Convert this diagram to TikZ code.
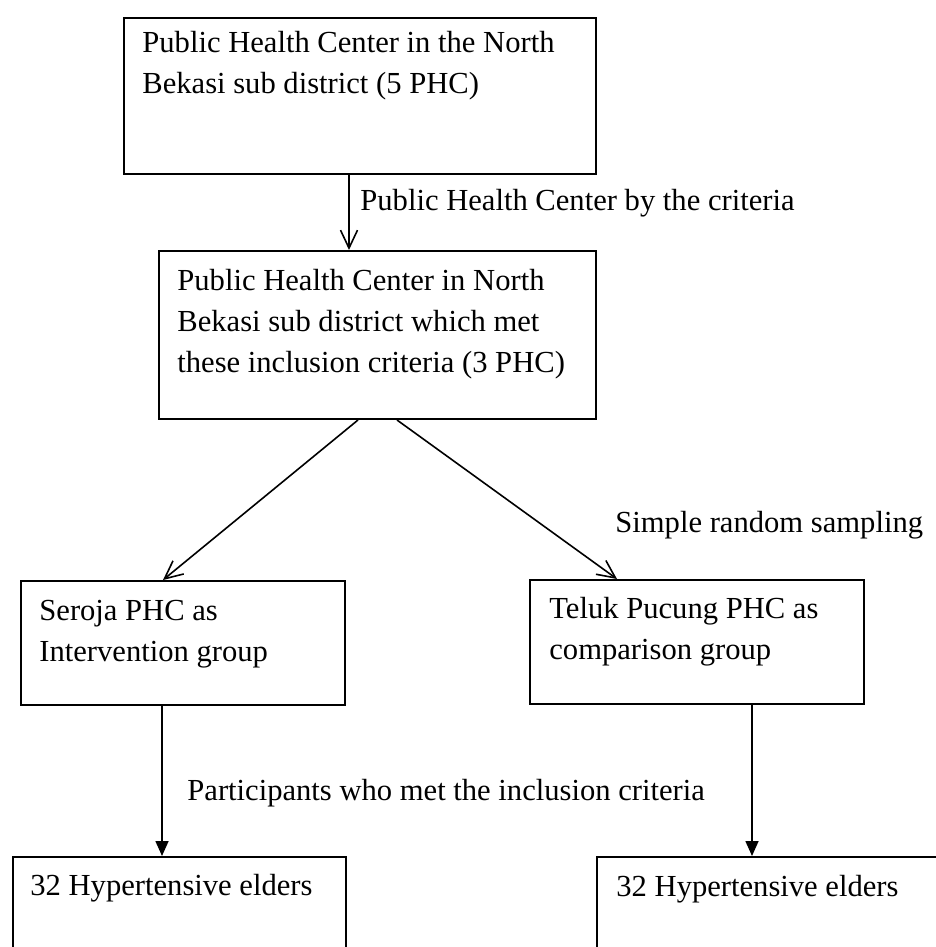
\documentclass[tikz,border=0pt]{standalone}
\usepackage{fontspec}
\setmainfont{Liberation Serif}
\usetikzlibrary{arrows.meta,positioning,calc}

\begin{document}
\begin{tikzpicture}[
    x=0.5pt, y=-0.5pt,
    box/.style={rectangle, draw, line width=1pt, anchor=north west, inner sep=0pt},
    txt/.style={anchor=base west, inner sep=0pt, text width=230pt, align=flush left, font=\fontsize{15.3pt}{20.5pt}\selectfont},
    lbl/.style={anchor=base west, inner sep=0pt, font=\fontsize{15.3pt}{20.5pt}\selectfont},
    openarrow/.style={-{Straight Barb[length=9pt, width=8.5pt]}, line width=0.8pt},
    filledarrow/.style={-{Triangle[length=7.5pt, width=6.5pt]}, line width=0.8pt},
]
\useasboundingbox (0,0) rectangle (936,947);
\clip (0,0) rectangle (936,947);
\node[box, minimum width=236pt, minimum height=78pt] (top) at (123,17) {};
\node[box, minimum width=218.5pt, minimum height=84pt] (mid) at (158,250) {};
\node[box, minimum width=162pt, minimum height=62pt] (sero) at (20,580) {};
\node[box, minimum width=167pt, minimum height=62pt] (teluk) at (529,579) {};
\node[box, minimum width=166.5pt, minimum height=72pt] (eldA) at (12,856) {};
\node[box, minimum width=192pt, minimum height=72pt] (eldB) at (596,856) {};
\node[txt] (top-txt) at ($(top.north west)+(19,36)$) {Public Health Center in the North\\Bekasi sub district (5 PHC)};
\node[txt] (mid-txt) at ($(mid.north west)+(19,40)$) {Public Health Center in North\\Bekasi sub district which met\\these inclusion criteria (3 PHC)};
\node[txt] (sero-txt) at ($(sero.north west)+(19,40)$) {Seroja PHC as\\Intervention group};
\node[txt] (teluk-txt) at ($(teluk.north west)+(20,39)$) {Teluk Pucung PHC as\\comparison group};
\node[txt] (eldA-txt) at ($(eldA.north west)+(18,39)$) {32 Hypertensive elders};
\node[txt] (eldB-txt) at ($(eldB.north west)+(20,40)$) {32 Hypertensive elders};
\node[lbl] (crit) at (360,210) {Public Health Center by the criteria};
\node[lbl] (random) at (615,532) {Simple random sampling};
\node[lbl] (incl) at (187,800) {Participants who met the inclusion criteria};
\coordinate (a1) at ($(top.south)+(-11,0)$);
\coordinate (a2) at ($(sero.south west)+(142,0)$);
\coordinate (a3) at ($(teluk.south west)+(223,0)$);
\draw[openarrow] (a1) -- (a1 |- mid.north);
\draw[openarrow] ($(mid.south)+(-19.5,0)$) -- ($(sero.north west)+(143,0)$);
\draw[openarrow] ($(mid.south)+(19.5,0)$) -- ($(teluk.north west)+(88,0)$);
\draw[filledarrow] (a2) -- (a2 |- eldA.north);
\draw[filledarrow] (a3) -- (a3 |- eldB.north);
\end{tikzpicture}
\end{document}
